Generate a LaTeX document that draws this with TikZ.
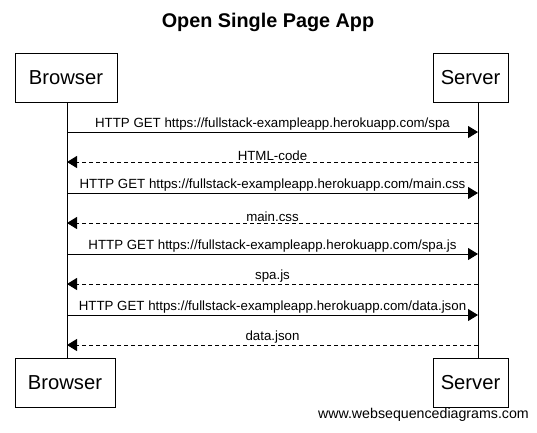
\documentclass[tikz,border=0pt]{standalone}
\usepackage{fontspec}
\setmainfont{Liberation Sans}
\usetikzlibrary{arrows.meta}
\begin{document}
\begin{tikzpicture}[x=1pt,y=-1pt,
  actor/.style={draw,line width=1pt,minimum width=102pt,minimum height=49pt,inner sep=0pt,font=\fontsize{20.2}{23}\selectfont},
  msg/.style={line width=1pt,-{Triangle[length=10pt,width=12pt]}},
  reply/.style={msg,dash pattern=on 4pt off 3pt},
  lbl/.style={font=\fontsize{13.3}{15}\selectfont,inner sep=1pt,anchor=south}]
\useasboundingbox (0,0) rectangle (537,432);
\node[font=\bfseries\fontsize{19.8}{22}\selectfont] (title) at (268,22) {Open Single Page App};
\node[actor] (bt) at (66,77.5) {Browser};
\node[actor,minimum width=75pt] (st) at (470.5,77.5) {Server};
\node[actor,minimum width=100pt] (bb) at (65,382.5) {Browser};
\node[actor,minimum width=75pt] (sb) at (470.5,382.5) {Server};
\coordinate (bl) at (67,102); \coordinate (bl2) at (67,358);
\coordinate (sl) at (478,102); \coordinate (sl2) at (478,358);
\draw[line width=1pt] (bl) -- (bl2);
\draw[line width=1pt] (sl) -- (sl2);
\foreach \i/\y in {1/132,2/162,3/193,4/223,5/254,6/284,7/315,8/345}{
  \coordinate (b\i) at (67,\y); \coordinate (s\i) at (478,\y);
}
\draw[msg] (b1) -- node[lbl]{HTTP GET https://fullstack-exampleapp.herokuapp.com/spa} (s1);
\draw[reply] (s2) -- node[lbl]{HTML-code} (b2);
\draw[msg] (b3) -- node[lbl]{HTTP GET https://fullstack-exampleapp.herokuapp.com/main.css} (s3);
\draw[reply] (s4) -- node[lbl]{main.css} (b4);
\draw[msg] (b5) -- node[lbl]{HTTP GET https://fullstack-exampleapp.herokuapp.com/spa.js} (s5);
\draw[reply] (s6) -- node[lbl]{spa.js} (b6);
\draw[msg] (b7) -- node[lbl]{HTTP GET https://fullstack-exampleapp.herokuapp.com/data.json} (s7);
\draw[reply] (s8) -- node[lbl]{data.json} (b8);
\node[anchor=east,inner sep=0pt,font=\fontsize{14.2}{16}\selectfont] (wm) at (529,415) {www.websequencediagrams.com};
\end{tikzpicture}
\end{document}
